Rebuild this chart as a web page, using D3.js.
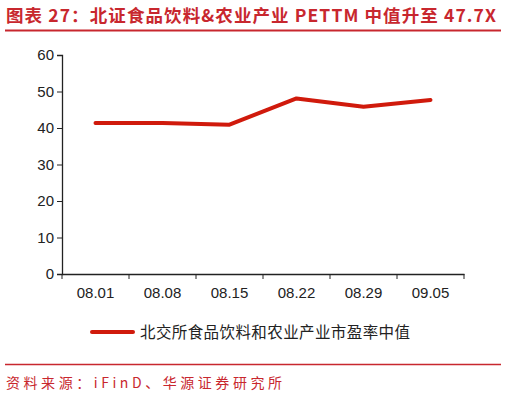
<!DOCTYPE html>
<html>
<head>
<meta charset="utf-8">
<script src="https://cdn.jsdelivr.net/npm/d3@7"></script>
<style>
body { margin: 0; background: #fff; }
</style>
</head>
<body>
<script>
// chart data
var categories = ["08.01", "08.08", "08.15", "08.22", "08.29", "09.05"];
var peValues = [41.4, 41.4, 40.9, 48.1, 45.8, 47.7];
var yTicks = [0, 10, 20, 30, 40, 50, 60];
var seriesName = "北交所食品饮料和农业产业市盈率中值";

var svg = d3.select("body").append("svg")
    .attr("width", 507).attr("height", 397);

// title and rules
svg.append("text")
    .attr("x", 6).attr("y", 22)
    .attr("fill", "#c8272e")
    .attr("textLength", 490).attr("lengthAdjust", "spacing")
    .style("font-family", "Noto Sans CJK SC")
    .style("font-size", "17.5px").style("font-weight", "bold")
    .text("图表 27：北证食品饮料&农业产业 PETTM 中值升至 47.7X");
svg.append("line").attr("x1", 5).attr("x2", 501).attr("y1", 30.5).attr("y2", 30.5)
    .attr("stroke", "#c8272e").attr("stroke-width", 2);
svg.append("line").attr("x1", 5).attr("x2", 501).attr("y1", 364.5).attr("y2", 364.5)
    .attr("stroke", "#c8272e").attr("stroke-width", 1.5);
svg.append("text")
    .attr("x", 6).attr("y", 388)
    .attr("fill", "#c8272e")
    .attr("textLength", 276).attr("lengthAdjust", "spacing")
    .style("font-family", "Noto Sans CJK SC")
    .style("font-size", "14px")
    .text("资料来源：iFinD、华源证券研究所");

var x = d3.scaleBand().domain(categories).range([62, 464]);
var y = d3.scaleLinear().domain([0, 60]).range([274, 55]);

svg.append("g").attr("transform", "translate(62,0)")
    .call(d3.axisLeft(y).tickValues(yTicks).tickSize(5).tickPadding(3));
var xAxis = svg.append("g").attr("transform", "translate(0,274)")
    .call(d3.axisBottom(x).tickSize(0).tickPadding(13));

// tick marks at band edges
xAxis.selectAll(".edge")
    .data(categories.concat(["end"]))
    .enter().append("line")
    .attr("x1", function(d, i) { return 62 + i * x.step(); })
    .attr("x2", function(d, i) { return 62 + i * x.step(); })
    .attr("y1", 0).attr("y2", 5)
    .attr("stroke", "#222");

svg.selectAll(".domain").attr("stroke", "#222").attr("stroke-width", 1.3);
svg.selectAll(".tick line").attr("stroke", "#222");
svg.selectAll(".tick text")
    .attr("fill", "#222")
    .style("font-family", "Liberation Sans, Arial")
    .style("font-size", "15px");

var line = d3.line()
    .x(function(d, i) { return x(categories[i]) + x.bandwidth() / 2; })
    .y(function(d) { return y(d); });

svg.append("path")
    .datum(peValues)
    .attr("fill", "none")
    .attr("stroke", "#d01a0c")
    .attr("stroke-width", 4)
    .attr("stroke-linecap", "round")
    .attr("stroke-linejoin", "round")
    .attr("d", line);

// legend
svg.append("line").attr("x1", 92).attr("x2", 133).attr("y1", 332).attr("y2", 332)
    .attr("stroke", "#d01a0c").attr("stroke-width", 4).attr("stroke-linecap", "round");
svg.append("text")
    .attr("x", 140).attr("y", 337.5)
    .attr("fill", "#222")
    .attr("textLength", 270).attr("lengthAdjust", "spacing")
    .style("font-family", "Noto Sans CJK SC")
    .style("font-size", "15.5px")
    .text(seriesName);
</script>
</body>
</html>
